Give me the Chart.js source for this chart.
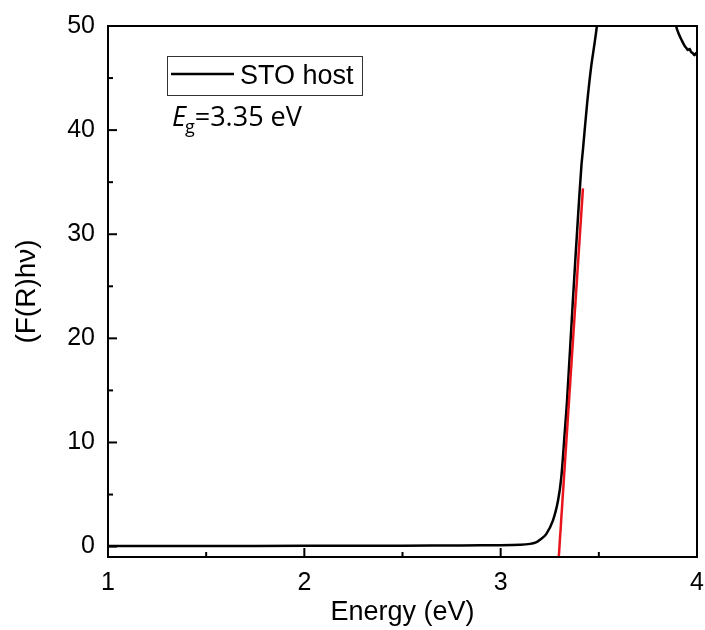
<!DOCTYPE html>
<html>
<head>
<meta charset="utf-8">
<script src="https://cdn.jsdelivr.net/npm/chart.js@4.4.1/dist/chart.umd.min.js"></script>
<style>
  html, body { margin: 0; padding: 0; background: #fff; }
  #wrap { width: 705px; height: 630px; position: relative; }
</style>
</head>
<body>
<div id="wrap"><canvas id="kmChart" width="705" height="630"></canvas></div>
<script>
// measured STO host curve, energy (eV) vs (F(R)hv)
const energy = [1.0, 1.5, 2.0, 2.5, 2.8, 3.0, 3.1, 3.15, 3.18, 3.2, 3.232, 3.266, 3.292, 3.309, 3.326, 3.338, 3.368, 3.394, 3.411, 3.419, 3.44, 3.461, 3.478, 3.49, 3.52, 3.6, 3.7, 3.8, 3.86, 3.894, 3.908, 3.923, 3.937, 3.945, 3.953, 3.962, 3.97, 3.978, 3.987, 3.995, 4.0]
const fr = [0.05, 0.06, 0.07, 0.09, 0.11, 0.14, 0.18, 0.26, 0.41, 0.65, 1.2, 2.5, 4.4, 6.7, 10.9, 14.0, 23.7, 31.7, 36.5, 38.1, 42.5, 46.1, 48.3, 50, 55, 70, 80, 70, 57, 50, 49.2, 48.6, 48.1, 47.9, 47.7, 47.8, 47.5, 47.4, 47.2, 47.4, 47.3]

// linear fit of the absorption edge (Tauc extrapolation)
const fitX = [3.296, 3.419]
const fitY = [-1.0, 34.4]

const xTicks = [1, 2, 3, 4]
const xMinor = [1.5, 2.5, 3.5]
const yTicks = [0, 10, 20, 30, 40, 50]
const yMinor = [5, 15, 25, 35, 45]

const legendLabel = 'STO host'
const gapValue = '3.35 eV'

// inward ticks + frame, like the origin plot
const frameTicks = {
  id: 'frameTicks',
  afterDraw(chart) {
    const { ctx, chartArea: a, scales } = chart
    ctx.save()
    ctx.strokeStyle = '#000'
    ctx.lineWidth = 2
    ctx.strokeRect(a.left, a.top, a.right - a.left, a.bottom - a.top)
    const tick = (vals, len) => {
      vals.forEach(v => {
        const px = scales.x.getPixelForValue(v)
        ctx.beginPath(); ctx.moveTo(px, a.bottom); ctx.lineTo(px, a.bottom - len); ctx.stroke()
      })
    }
    const ytick = (vals, len) => {
      vals.forEach(v => {
        const py = scales.y.getPixelForValue(v)
        ctx.beginPath(); ctx.moveTo(a.left, py); ctx.lineTo(a.left + len, py); ctx.stroke()
      })
    }
    tick(xTicks, 9); tick(xMinor, 5)
    ytick(yTicks, 9); ytick(yMinor, 5)

    // legend box
    ctx.lineWidth = 1
    ctx.strokeStyle = '#333'
    ctx.strokeRect(167.5, 56.5, 195, 39)
    ctx.lineWidth = 2.5
    ctx.strokeStyle = '#000'
    ctx.beginPath(); ctx.moveTo(171, 74); ctx.lineTo(234, 74); ctx.stroke()
    ctx.fillStyle = '#000'
    ctx.font = '27px "Liberation Sans", Arial, sans-serif'
    ctx.textBaseline = 'alphabetic'
    ctx.fillText(legendLabel, 240, 84)

    // band gap annotation
    ctx.font = 'italic 27px "Open Sans", sans-serif'
    ctx.fillText('E', 172, 126)
    let x = 172 + ctx.measureText('E').width - 1
    ctx.font = '18px "Open Sans", sans-serif'
    ctx.fillText('g', x, 133)
    x += ctx.measureText('g').width
    ctx.font = '27px "Open Sans", sans-serif'
    ctx.fillText('=' + gapValue, x, 126)
    ctx.restore()
  }
}

const ctx = document.getElementById('kmChart')
new Chart(ctx, {
  type: 'scatter',
  data: {
    datasets: [{
      label: legendLabel,
      data: energy.map((e, i) => ({ x: e, y: fr[i] })),
      showLine: true,
      borderColor: '#000',
      borderWidth: 2.5,
      pointRadius: 0,
      tension: 0.3,
      order: 2
    }, {
      label: 'fit',
      data: fitX.map((e, i) => ({ x: e, y: fitY[i] })),
      showLine: true,
      borderColor: '#e8141b',
      borderWidth: 2.5,
      pointRadius: 0,
      order: 1
    }]
  },
  options: {
    responsive: false,
    animation: false,
    layout: { padding: { top: 26, right: 8, left: 0, bottom: 0 } },
    plugins: { legend: { display: false }, tooltip: { enabled: false } },
    scales: {
      x: {
        type: 'linear',
        min: 1,
        max: 4,
        afterBuildTicks: s => { s.ticks = xTicks.map(v => ({ value: v })) },
        afterFit: s => { s.height = 73; s.paddingLeft = 0; s.paddingRight = 0 },
        grid: { display: false, drawTicks: false },
        border: { display: false },
        ticks: { color: '#000', padding: 11, font: { family: '"Liberation Sans", Arial', size: 25 } },
        title: { display: true, text: 'Energy (eV)', color: '#000', padding: { top: 0, bottom: 1 }, font: { family: '"Liberation Sans", Arial', size: 27 } }
      },
      y: {
        min: -1,
        max: 50,
        afterBuildTicks: s => { s.ticks = yTicks.map(v => ({ value: v })) },
        afterFit: s => { s.width = 108; s.paddingTop = 0; s.paddingBottom = 0 },
        grid: { display: false, drawTicks: false },
        border: { display: false },
        ticks: { color: '#000', padding: 13, font: { family: '"Liberation Sans", Arial', size: 25 } },
        title: { display: true, text: '(F(R)hν)', color: '#000', padding: { top: 10, bottom: 0 }, font: { family: '"Liberation Sans", Arial', size: 28 } }
      }
    }
  },
  plugins: [frameTicks]
})
</script>
</body>
</html>
